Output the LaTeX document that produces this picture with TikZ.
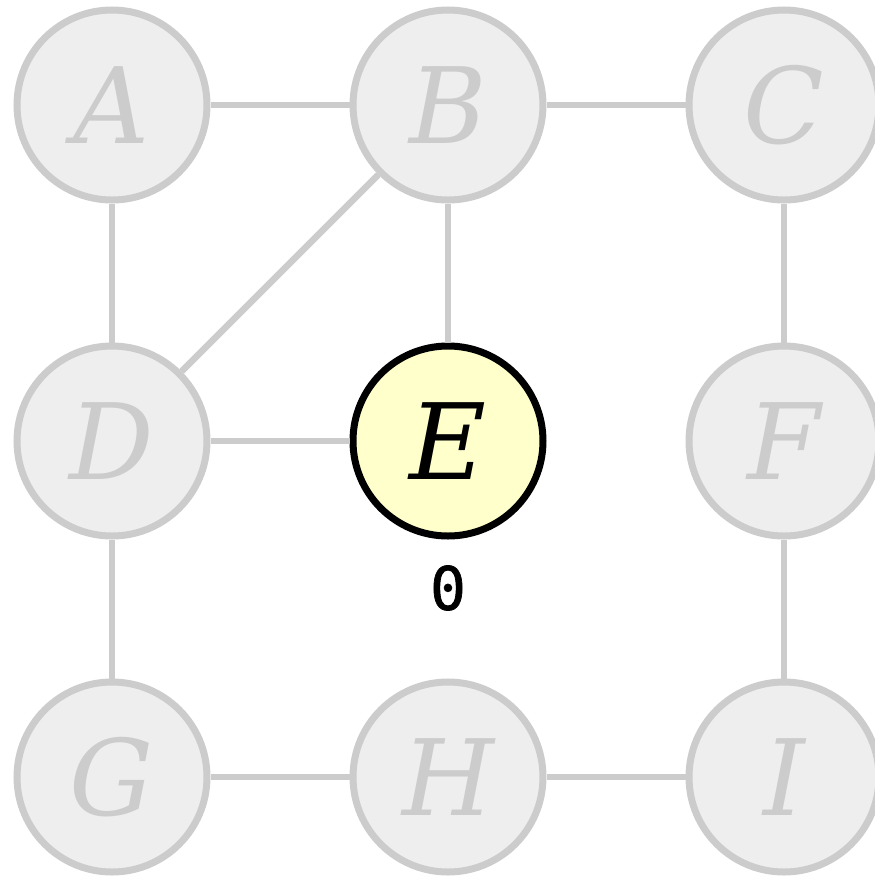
\documentclass[tikz,border=0pt]{standalone}
\usepackage{fontspec}
\setmainfont{DejaVu Serif}
\newfontfamily\distfont[FakeBold=1.2]{DejaVu Sans Mono}
\usetikzlibrary{positioning}
\definecolor{faded}{HTML}{CCCCCC}
\definecolor{fadedfill}{HTML}{EEEEEE}
\definecolor{current}{HTML}{FFFFCC}

\begin{document}
\begin{tikzpicture}[
  vertex/.style={circle, draw=faded, fill=fadedfill, line width=0.07cm, minimum size=1.9cm, inner sep=0pt, text=faded, font=\fontsize{30}{36}\selectfont\itshape},
  active/.style={vertex, draw=black, fill=current, text=black},
  edge/.style={draw=faded, line width=0.065cm},
  dist/.style={font=\fontsize{17}{20}\selectfont\distfont},
]
\useasboundingbox (0,0) rectangle (8.74,-8.77);

% === GRID OF VERTICES ===
\node[vertex] (a) at (1.12,-1.05) {A};
\node[vertex] (b) at (4.48,-1.05) {B};
\node[vertex] (c) at (7.84,-1.05) {C};
\node[vertex] (d) at (1.12,-4.41) {D};
\node[active] (e) at (4.48,-4.41) {E};
\node[vertex] (f) at (7.84,-4.41) {F};
\node[vertex] (g) at (1.12,-7.77) {G};
\node[vertex] (h) at (4.48,-7.77) {H};
\node[vertex] (i) at (7.84,-7.77) {I};

\node[dist] (e0) at (4.48,-5.88) {0};

\draw[edge] (a) -- (b);
\draw[edge] (b) -- (c);
\draw[edge] (a) -- (d);
\draw[edge] (b) -- (d);
\draw[edge] (b) -- (e);
\draw[edge] (c) -- (f);
\draw[edge] (d) -- (e);
\draw[edge] (d) -- (g);
\draw[edge] (f) -- (i);
\draw[edge] (g) -- (h);
\draw[edge] (h) -- (i);
\end{tikzpicture}
\end{document}
